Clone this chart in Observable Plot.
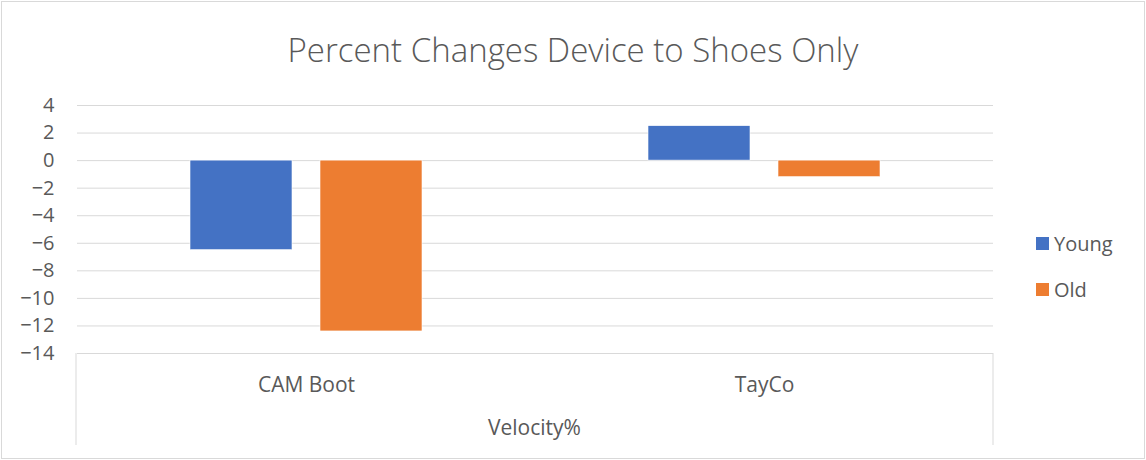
<!DOCTYPE html>
<html>
<head>
<meta charset="utf-8">
<script src="https://cdn.jsdelivr.net/npm/d3@7"></script>
<script src="https://cdn.jsdelivr.net/npm/@observablehq/plot@0.6"></script>
<style>
  html, body { margin: 0; padding: 0; background: #fff; }
  #wrap { position: relative; width: 1146px; height: 460px; font-family: "Open Sans", sans-serif; color: #595959; }
  #title { height: 85px; line-height: 100px; text-align: center; font-size: 33px; font-weight: 300; color: #595959; white-space: nowrap; }
  #border { position: absolute; left: 1px; top: 1px; width: 1142px; height: 456px; border: 1px solid #d9d9d9; pointer-events: none; }
  .leg { position: absolute; left: 1036px; font-size: 20px; display: flex; align-items: center; gap: 5px; }
  .sw { width: 13px; height: 13px; display: inline-block; }
  svg { display: block; }
</style>
</head>
<body>
<div id="wrap">
  <div id="title">Percent Changes Device to Shoes Only</div>
  <div id="chart"></div>
  <div id="legend"></div>
  <div id="border"></div>
</div>
<script>
const categories = ["CAM Boot", "TayCo"];
const series = ["Young", "Old"];
const young = [-6.5, 2.5];
const old = [-12.4, -1.2];
const yTicks = [-14, -12, -10, -8, -6, -4, -2, 0, 2, 4];
const colors = ["#4472C4", "#ED7D31"];
const axisTitle = "Velocity%";

const data = [];
categories.forEach((c, i) => {
  data.push({category: c, series: "Young", value: young[i]});
  data.push({category: c, series: "Old", value: old[i]});
});

const chart = Plot.plot({
  width: 1146,
  height: 375,
  marginTop: 20,
  marginBottom: 107,
  marginLeft: 76,
  marginRight: 153,
  style: {fontFamily: "'Open Sans', sans-serif", fontSize: "21px", color: "#595959", background: "transparent"},
  fx: {domain: categories, padding: 0, label: null},
  x: {domain: series, paddingInner: 0.2137, paddingOuter: 0.857, axis: null},
  y: {domain: [-14, 4], label: null},
  color: {domain: series, range: colors},
  marks: [
    Plot.gridY(yTicks, {stroke: "#d9d9d9", strokeOpacity: 1, strokeWidth: 1}),
    Plot.axisY(yTicks, {tickSize: 0, tickPadding: 23, label: null, fontSize: 20}),
    Plot.axisFx({anchor: "bottom", tickSize: 0, tickPadding: 24, label: null, fontSize: 21}),
    Plot.barY(data, {fx: "category", x: "series", y: "value", fill: "series", stroke: "#ffffff", strokeWidth: 0.6})
  ]
});
document.getElementById("chart").appendChild(chart);

// category box lines and outer axis title
const y = chart.scale("y");
const svg = d3.select(chart);
const x0 = 76, x1 = 1146 - 153;
const yTop = y.apply(-14);
const yBot = 360;
const g = svg.append("g").attr("stroke", "#d9d9d9").attr("stroke-width", 1);
g.append("line").attr("x1", x0).attr("x2", x0).attr("y1", yTop).attr("y2", yBot);
g.append("line").attr("x1", x1).attr("x2", x1).attr("y1", yTop).attr("y2", yBot);
svg.append("text")
  .attr("x", (x0 + x1) / 2).attr("y", 350)
  .attr("text-anchor", "middle")
  .attr("fill", "#595959").attr("font-size", 21)
  .text(axisTitle);

// legend
const legTops = [244, 290];
const legend = document.getElementById("legend");
series.forEach((s, i) => {
  const d = document.createElement("div");
  d.className = "leg";
  d.style.top = (legTops[i] - 14) + "px";
  d.innerHTML = `<span class="sw" style="background:${colors[i]}"></span><span>${s}</span>`;
  legend.appendChild(d);
});
</script>
</body>
</html>
